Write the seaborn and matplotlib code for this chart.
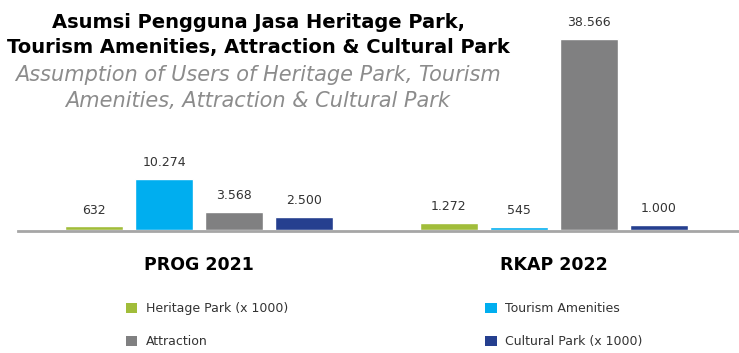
import matplotlib
matplotlib.use("Agg")
import matplotlib.pyplot as plt
from matplotlib.patches import Patch
import seaborn as sns
import pandas as pd

categories = ["PROG 2021", "RKAP 2022"]
series = ["Heritage Park (x 1000)", "Tourism Amenities", "Attraction", "Cultural Park (x 1000)"]
values = {
    "Heritage Park (x 1000)": [632, 1272],
    "Tourism Amenities": [10274, 545],
    "Attraction": [3568, 38566],
    "Cultural Park (x 1000)": [2500, 1000],
}
colors = ["#A1BD3A", "#00AEEF", "#808081", "#253F8F"]
title_lines = ["Asumsi Pengguna Jasa Heritage Park,",
               "Tourism Amenities, Attraction & Cultural Park"]
subtitle_lines = ["Assumption of Users of Heritage Park, Tourism",
                  "Amenities, Attraction & Cultural Park"]

rows = []
for s in series:
    for c, v in zip(categories, values[s]):
        rows.append({"cat": c, "series": s, "value": v})
df = pd.DataFrame(rows)

sns.set_theme(style="white")
plt.rcParams["font.family"] = ["DejaVu Sans"]

fig = plt.figure(figsize=(7.39, 3.53), dpi=100)
ax = fig.add_axes([0.0, 123.5 / 353, 1.0, 229.5 / 353])

sns.barplot(data=df, x="cat", y="value", hue="series", hue_order=series,
            order=categories, palette=colors, width=0.79, gap=0.17,
            legend=False, ax=ax, saturation=1)

for cont in ax.containers:
    labs = [f"{int(round(b.get_height())):,}".replace(",", ".") for b in cont]
    ax.bar_label(cont, labels=labs, padding=7, fontsize=9, color="#333333")

ax.set_xlim(-0.561, 1.522)
ax.set_ylim(0, 46340)
ax.set_yticks([])
ax.set_xlabel("")
ax.set_ylabel("")
for sp in ["top", "left", "right"]:
    ax.spines[sp].set_visible(False)
ax.spines["bottom"].set_color("#A6A6A6")
ax.spines["bottom"].set_linewidth(2.0)
ax.spines["bottom"].set_position(("outward", 1))
ax.spines["bottom"].set_bounds(-0.51, 1.522)
ax.set_xticks(range(len(categories)))
ax.set_xticklabels(categories, fontsize=12.5, fontweight="bold", color="black")
ax.tick_params(axis="x", which="major", length=0, pad=18)
ax.set_xticks([0.512], minor=True)
ax.tick_params(axis="x", which="minor", length=4, width=1, color="#BFBFBF")

cx = 258 / 739
fig.text(cx, 1 - 22 / 353, title_lines[0], ha="center", va="center",
         fontsize=14, fontweight="bold", color="black")
fig.text(cx, 1 - 47 / 353, title_lines[1], ha="center", va="center",
         fontsize=14, fontweight="bold", color="black")
fig.text(cx, 1 - 75 / 353, subtitle_lines[0], ha="center", va="center",
         fontsize=15, style="italic", color="#8C8C8C")
fig.text(cx, 1 - 101 / 353, subtitle_lines[1], ha="center", va="center",
         fontsize=15, style="italic", color="#8C8C8C")

order = [0, 2, 1, 3]
handles = [Patch(facecolor=colors[i], edgecolor="none") for i in order]
labels = [series[i] for i in order]
fig.legend(handles, labels, ncol=2, loc="center", bbox_to_anchor=(0.52, 1 - 325 / 353),
           frameon=False, fontsize=9, handlelength=0.9, handleheight=0.9,
           handletextpad=0.7, labelspacing=1.6, columnspacing=15.8,
           labelcolor="#333333")

fig.savefig("out.png", dpi=100)
